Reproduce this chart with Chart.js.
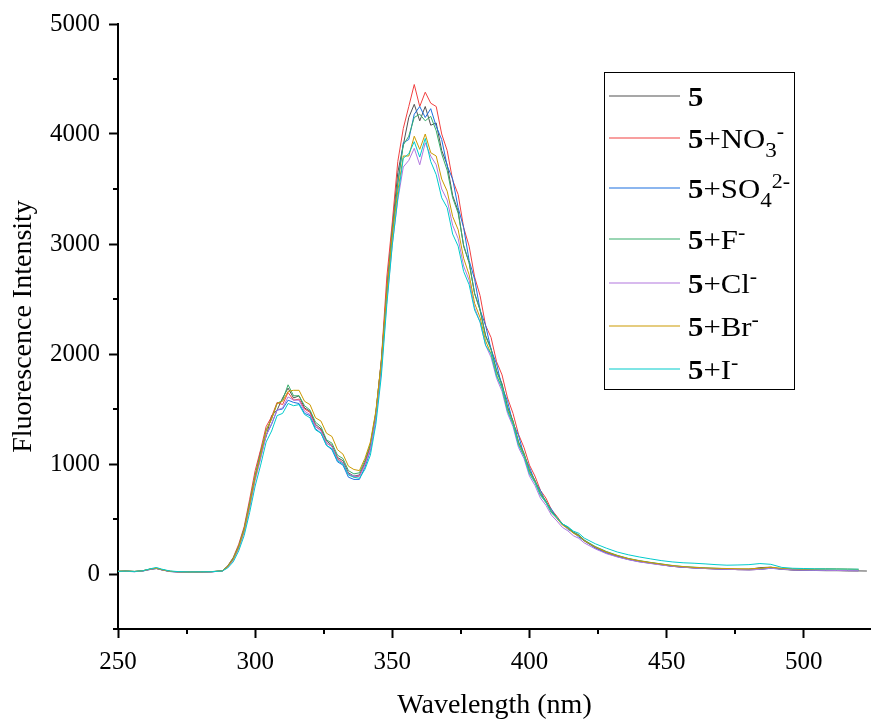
<!DOCTYPE html>
<html>
<head>
<meta charset="utf-8">
<script src="https://cdn.jsdelivr.net/npm/chart.js@4.4.1/dist/chart.umd.min.js"></script>
<style>
  html, body { margin: 0; padding: 0; background: #fff; }
  #wrap { width: 871px; height: 725px; }
</style>
</head>
<body>
<div id="wrap"><canvas id="spectra" width="871" height="725"></canvas></div>
<script>
// --- data ---
const wavelength = [250,253,256,259,262,264,266,269,272,276,280,284,288,
  290,292,294,296,298,300,302,304,306,308,310,312,314,316,318,320,322,324,326,328,
  330,332,334,336,338,340,342,344,346,348,350,352,354,356,358,360,362,364,366,368,
  370,372,374,376,378,380,382,384,386,388,390,392,394,396,398,400,402,404,406,408,
  410,412,414,416,418,420,
  424,428,432,436,440,444,448,452,456,460,464,468,472,476,480,484,488,492,496,500,
  504,508,512,516,520,523];

const xTicks = [250, 300, 350, 400, 450, 500];
const xMinorTicks = [275, 325, 375, 425, 475];
const yTicks = [0, 1000, 2000, 3000, 4000, 5000];
const yMinorTicks = [-500, 500, 1500, 2500, 3500, 4500];

const seriesLabels = [
  [['5', 'b']],
  [['5', 'b'], ['+NO'], ['3', 'sub'], ['-', 'sup']],
  [['5', 'b'], ['+SO'], ['4', 'sub'], ['2-', 'sup']],
  [['5', 'b'], ['+F'], ['-', 'sup']],
  [['5', 'b'], ['+Cl'], ['-', 'sup']],
  [['5', 'b'], ['+Br'], ['-', 'sup']],
  [['5', 'b'], ['+I'], ['-', 'sup']]
];
const seriesColors = ['#515151', '#F14040', '#1A6FDF', '#37AD6B', '#B177DE', '#CC9900', '#00CBCC'];

const int5 = [24,26,22,28,46,52,38,24,20,18,19,20,28,
  70,140,250,410,640,880,1120,1250,1440,1490,1600,1690,1600,1620,1510,1480,1360,1320,1210,1170,
  1060,1030,920,890,900,1010,1170,1460,1940,2600,3150,3650,3900,4150,4270,4120,4250,4080,4100,3850,
  3720,3440,3300,2980,2830,2550,2400,2170,2050,1850,1730,1520,1390,1200,1090,940,850,730,660,565,
  510,450,420,375,350,300,
  245,200,165,138,118,102,88,72,63,57,52,48,44,40,42,58,62,42,36,34,32,30,30,28,28,27];

const intNO3 = [24,27,23,29,44,50,38,23,19,18,19,21,28,
  75,150,270,430,680,940,1130,1340,1430,1560,1540,1650,1580,1590,1500,1470,1340,1310,1190,1160,
  1050,1010,910,880,890,1000,1160,1450,1950,2700,3200,3750,4050,4250,4450,4250,4380,4280,4250,4000,
  3850,3580,3450,3150,2980,2700,2530,2260,2150,1930,1810,1600,1460,1270,1150,990,890,760,690,585,
  525,455,425,380,355,308,
  240,195,160,135,115,100,85,70,62,55,50,46,43,40,38,42,55,45,38,36,34,33,32,31,30];

const intSO4 = [22,24,21,27,42,49,37,22,18,17,18,20,27,
  65,130,240,390,620,870,1060,1260,1360,1490,1500,1580,1560,1550,1460,1440,1320,1280,1170,1130,
  1020,990,880,860,860,970,1120,1410,1880,2550,3100,3550,3920,3950,4180,4250,4150,4230,4070,3950,
  3710,3590,3330,3150,2850,2680,2400,2260,2040,1910,1700,1570,1370,1260,1080,970,840,760,650,590,
  505,460,405,380,335,302,
  235,190,158,132,112,98,84,70,61,55,50,46,43,40,38,42,52,44,38,36,34,33,32,31,30];

const intF = [25,27,24,30,47,54,40,25,21,19,20,22,29,
  72,145,255,415,650,900,1100,1310,1410,1550,1580,1720,1620,1620,1530,1490,1380,1340,1220,1190,
  1080,1050,940,910,920,1030,1180,1470,1930,2580,3120,3560,3900,3980,4150,4180,4120,4160,4030,3820,
  3670,3420,3280,2990,2830,2550,2400,2160,2040,1840,1720,1510,1390,1200,1100,940,850,735,665,570,
  515,455,425,380,355,308,
  250,205,170,142,122,106,92,78,68,62,56,52,48,45,44,48,56,48,42,40,38,37,36,35,34];

const intCl = [23,25,22,27,44,51,38,23,19,17,18,20,27,
  60,125,230,380,600,850,1050,1260,1370,1490,1510,1610,1580,1580,1480,1450,1340,1300,1190,1160,
  1040,1010,910,890,890,990,1130,1410,1850,2480,3000,3400,3700,3760,3870,3720,3920,3800,3720,3500,
  3400,3170,3050,2800,2670,2420,2290,2080,1970,1780,1660,1460,1340,1150,1050,890,805,690,625,535,
  482,424,392,348,324,282,
  228,185,155,130,110,96,82,70,62,55,50,46,43,40,38,42,52,44,38,36,34,33,32,31,30];

const intBr = [25,27,23,29,46,52,39,24,20,18,19,21,28,
  68,135,245,400,630,880,1080,1300,1410,1550,1570,1660,1670,1670,1570,1540,1420,1390,1280,1250,
  1130,1090,980,950,940,1050,1200,1480,1930,2560,3080,3480,3800,3800,3980,3860,4000,3830,3800,3590,
  3480,3250,3130,2870,2720,2460,2330,2120,2000,1810,1690,1490,1370,1180,1080,920,835,720,650,558,
  505,445,415,370,346,302,
  245,200,168,140,120,104,90,76,67,60,55,52,50,48,47,52,62,52,48,45,46,48,47,45,42];

const intI = [24,26,23,29,49,59,44,27,22,19,20,21,27,
  55,110,210,350,560,800,990,1200,1300,1440,1460,1550,1530,1540,1450,1420,1310,1280,1170,1140,
  1030,1000,900,880,870,950,1080,1360,1800,2450,2990,3420,3780,3820,3930,3790,3960,3750,3630,3420,
  3330,3090,2980,2750,2630,2400,2290,2080,2000,1800,1690,1480,1360,1170,1070,910,830,715,650,558,
  510,455,430,390,370,326,
  275,235,200,175,155,138,122,110,102,98,92,85,80,82,85,95,88,60,52,50,48,47,46,45,44];

const allSeries = [int5, intNO3, intSO4, intF, intCl, intBr, intI];

const serif = '"Liberation Serif", "Times New Roman", serif';

// --- minor ticks (Chart.js has none) ---
const minorTicks = {
  id: 'minorTicks',
  afterDraw(chart) {
    const { ctx, chartArea, scales } = chart;
    ctx.save();
    ctx.strokeStyle = '#000';
    ctx.lineWidth = 2;
    ctx.beginPath();
    xMinorTicks.forEach(v => {
      const x = Math.round(scales.x.getPixelForValue(v));
      ctx.moveTo(x, chartArea.bottom);
      ctx.lineTo(x, chartArea.bottom + 5);
    });
    yMinorTicks.forEach(v => {
      const y = Math.round(scales.y.getPixelForValue(v));
      ctx.moveTo(chartArea.left - 5, y);
      ctx.lineTo(chartArea.left, y);
    });
    ctx.stroke();
    ctx.restore();
  }
};

// --- legend with bold / sub / superscript text ---
const legendBox = {
  id: 'legendBox',
  afterDraw(chart) {
    const ctx = chart.ctx;
    const rows = [106, 148, 198, 249, 293, 336, 379];
    const stretch = 1.1; // the original glyphs are a bit wider
    ctx.save();
    ctx.strokeStyle = '#000';
    ctx.lineWidth = 1;
    ctx.strokeRect(604.5, 72.5, 190, 317);
    seriesLabels.forEach((parts, i) => {
      const base = rows[i];
      ctx.strokeStyle = seriesColors[i];
      ctx.lineWidth = 1.2;
      ctx.beginPath();
      ctx.moveTo(609, base - 10);
      ctx.lineTo(680, base - 10);
      ctx.stroke();
      let x = 688;
      ctx.fillStyle = '#000';
      ctx.textAlign = 'left';
      ctx.textBaseline = 'alphabetic';
      parts.forEach(([t, kind]) => {
        let size = 28, dy = 0, weight = '';
        if (kind === 'b') weight = 'bold ';
        if (kind === 'sub') { size = 21; dy = 9; }
        if (kind === 'sup') { size = 20; dy = -10; }
        ctx.font = weight + size + 'px ' + serif;
        ctx.save();
        ctx.translate(x, base + dy);
        ctx.scale(stretch, 1);
        ctx.fillText(t, 0, 0);
        ctx.restore();
        x += ctx.measureText(t).width * stretch;
      });
    });
    ctx.restore();
  }
};

const chart = new Chart(document.getElementById('spectra'), {
  type: 'line',
  data: {
    datasets: allSeries.map((vals, i) => ({
      label: seriesLabels[i].map(p => p[0]).join(''),
      data: vals.map((v, k) => ({ x: wavelength[k], y: v })),
      borderColor: seriesColors[i],
      borderWidth: 1,
      pointRadius: 0,
      tension: 0,
      fill: false,
      order: allSeries.length - 1 - i
    }))
  },
  options: {
    responsive: false,
    animation: false,
    devicePixelRatio: 1,
    layout: { padding: { top: 23, right: 0, left: 0, bottom: 0 } },
    plugins: { legend: { display: false }, tooltip: { enabled: false } },
    scales: {
      x: {
        type: 'linear',
        min: 250,
        max: 524.5,
        afterBuildTicks: s => { s.ticks = xTicks.map(v => ({ value: v })); },
        afterFit: s => { s.height = 96; },
        ticks: {
          color: '#000',
          font: { family: serif, size: 25 },
          padding: 9,
          maxRotation: 0,
          autoSkip: false,
          callback: v => String(v)
        },
        grid: { drawOnChartArea: false, tickLength: 9, tickWidth: 2, tickColor: '#000' },
        border: { color: '#000', width: 2 },
        title: {
          display: true,
          text: 'Wavelength (nm)',
          color: '#000',
          font: { family: serif, size: 28 },
          padding: { top: 0, bottom: 3 }
        }
      },
      y: {
        min: -500,
        max: 5000,
        afterBuildTicks: s => { s.ticks = yTicks.map(v => ({ value: v })); },
        afterFit: s => { s.width = 118; },
        ticks: {
          color: '#000',
          font: { family: serif, size: 25 },
          padding: 9,
          autoSkip: false,
          callback: v => String(v)
        },
        grid: { drawOnChartArea: false, tickLength: 9, tickWidth: 2, tickColor: '#000' },
        border: { color: '#000', width: 2 },
        title: {
          display: true,
          text: 'Fluorescence Intensity',
          color: '#000',
          font: { family: serif, size: 28 },
          padding: { top: 7, bottom: 0 }
        }
      }
    }
  },
  plugins: [minorTicks, legendBox]
});
</script>
</body>
</html>
